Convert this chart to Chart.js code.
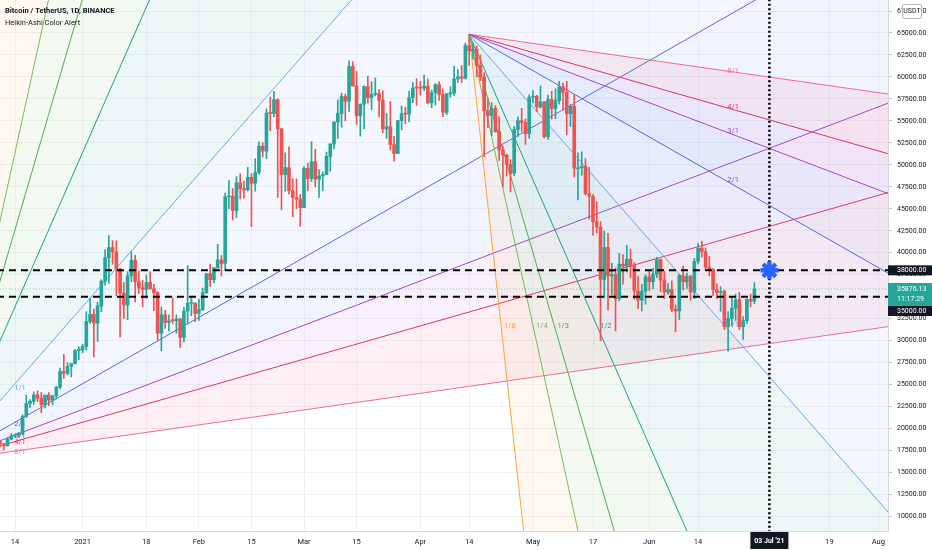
<!DOCTYPE html>
<html>
<head>
<meta charset="utf-8">
<title>BTCUSDT 1D</title>
<script src="https://cdn.jsdelivr.net/npm/chart.js@4.4.1/dist/chart.umd.min.js"></script>
<style>
  html, body { margin: 0; padding: 0; background: #ffffff; }
  #wrap { width: 932px; height: 550px; }
</style>
</head>
<body>
<div id="wrap"><canvas id="btcChart"></canvas></div>
<script>
// daily candles, Binance BTCUSDT, first candle on firstDay
var firstDay = '2020-12-10';

var opens = [
    // Dec 10 - 31
    18541, 18254, 18036, 18808, 19175, 19273, 19427, 21380, 22843, 23107, 23822, 23455, 22720, 23810, 23232, 23729, 24712, 26493, 26281, 27079, 27385, 28875,
    // Jan
    28923, 29332, 32176, 33000, 31989, 33949, 36769, 39432, 40586, 40088, 38150, 35410, 34049, 37371, 39145, 36737, 35994, 35824, 36622, 35901, 35468, 30851, 32950, 32078, 32259, 32251, 32464, 30363, 33368, 34246, 34262,
    // Feb
    33092, 33518, 35466, 37619, 36936, 38289, 39181, 38795, 46374, 46420, 44807, 47968, 47298, 47156, 48580, 47911, 49133, 52117, 51550, 55906, 55841, 57412, 54088, 48891, 49677, 47063, 46278, 46103,
    // Mar
    45134, 49596, 48436, 50349, 48374, 48746, 48882, 50959, 52376, 54875, 55851, 57774, 57222, 61188, 58976, 55605, 56901, 58912, 57641, 58031, 58100, 57352, 54083, 54342, 52304, 51293, 55026, 55818, 55782, 57636, 58746,
    // Apr
    58740, 58720, 58950, 57051, 58202, 59129, 57990, 55953, 58077, 58142, 59778, 60007, 59860, 63575, 62959, 63158, 61334, 60006, 56150, 55634, 56425, 53788, 51696, 51125, 50047, 49066, 54021, 55033, 54825, 53555,
    // May
    57697, 57797, 56578, 57169, 53205, 57436, 56393, 57315, 58866, 58240, 55816, 56670, 49538, 49671, 49845, 46716, 46415, 43538, 42910, 36964, 40596, 37371, 37531, 34771, 38706, 38491, 39273, 38530, 35658, 34606, 35641,
    // Jun 1 - 29
    37253, 36694, 37569, 39208, 36894, 35520, 35797, 33556, 33380, 37389, 36697, 37340, 35555, 39020, 40516, 40143, 38349, 38099, 35820, 35483, 35600, 31614, 32509, 33675, 34663, 31576, 32283, 34702, 34494
];
var highs = [
    18557, 18292, 18948, 19411, 19349, 19570, 21560, 23800, 23285, 24171, 24295, 24102, 23789, 24100, 23794, 24789, 26867, 28422, 27500, 27410, 28996, 29300,
    29600, 33300, 34778, 33600, 34360, 36939, 40365, 41950, 41380, 41350, 38264, 36628, 37850, 40100, 39747, 37950, 36852, 37469, 37850, 36415, 35600, 33826, 33456, 32944, 34875, 32921, 32557, 33783, 38531, 34933, 34342,
    34717, 35984, 37662, 38708, 38310, 40955, 39700, 46794, 48200, 47310, 48678, 48985, 48150, 49707, 49010, 50689, 52618, 52530, 56368, 57700, 58352, 57508, 54183, 51374, 52041, 48424, 48395, 46638,
    49790, 50200, 52640, 51773, 49448, 49200, 51450, 52402, 54895, 57387, 58150, 58058, 61844, 61724, 60633, 56938, 58981, 60100, 59468, 59880, 58589, 58430, 55830, 57200, 53238, 55073, 56700, 56559, 58400, 59368, 59800,
    59490, 60200, 59791, 58500, 59251, 59474, 58650, 58153, 58894, 61216, 60800, 61300, 63861, 64854, 63800, 63520, 62506, 60499, 57526, 57076, 56757, 55479, 52131, 51200, 50595, 54356, 55460, 56428, 55200, 57963,
    58458, 57911, 58973, 57200, 57939, 58360, 58650, 59500, 59300, 59500, 56862, 58000, 51367, 51483, 50700, 49720, 46623, 45800, 43546, 42451, 42200, 38800, 38270, 39920, 39791, 40841, 40411, 38877, 37338, 36400, 37499,
    37894, 38225, 39476, 39289, 37917, 36480, 36800, 34068, 37534, 38491, 37680, 37436, 39380, 41064, 41330, 40527, 39560, 38200, 36457, 36137, 35750, 33298, 34881, 35298, 35500, 32730, 34749, 35297, 36600
];
var lows = [
    17911, 17572, 18020, 18711, 19000, 19050, 19278, 21230, 22350, 22750, 23060, 21815, 22353, 22600, 22703, 23433, 24500, 25700, 26101, 25880, 27320, 27850,
    28624, 28946, 31962, 28130, 29900, 33288, 36300, 36500, 38720, 35111, 30420, 32531, 32380, 36701, 34408, 35357, 33850, 34800, 35844, 33400, 30071, 28850, 31390, 31106, 31900, 30837, 29241, 29842, 31915, 32825, 32171,
    32296, 33418, 35362, 36161, 36570, 38215, 37351, 37988, 45020, 43727, 43994, 46125, 46202, 47014, 42988, 47003, 48947, 50901, 50710, 53863, 55477, 46300, 44892, 47003, 46674, 44106, 45000, 43000,
    45115, 47047, 48100, 47500, 46300, 47070, 48882, 49274, 51845, 53005, 54270, 55013, 56078, 58966, 54600, 53271, 54123, 57023, 56270, 57820, 55450, 53650, 53000, 51700, 50427, 51283, 53962, 54691, 54900, 57072, 56769,
    57935, 58428, 56978, 56500, 56800, 57333, 55473, 55700, 57691, 57900, 59368, 59350, 59760, 61301, 62020, 60000, 59581, 50931, 54221, 53329, 53696, 50500, 47500, 48726, 46930, 48753, 53223, 53813, 52330, 53013,
    57037, 56035, 56478, 53057, 52900, 55200, 55241, 56900, 56235, 53400, 54370, 48600, 46000, 48799, 46555, 43825, 42001, 42250, 30000, 34850, 33488, 35200, 31111, 34537, 36419, 37800, 37134, 34684, 33632, 33379, 34153,
    35666, 35920, 37170, 35567, 34800, 35258, 33300, 31000, 32396, 35782, 35936, 34600, 34757, 38730, 39506, 38116, 37365, 35129, 34803, 33336, 31251, 28805, 31683, 32286, 31275, 30151, 31973, 33862, 34225
];
var closes = [
    18254, 18036, 18808, 19175, 19273, 19427, 21380, 22843, 23107, 23822, 23455, 22720, 23810, 23232, 23729, 24712, 26493, 26281, 27079, 27385, 28875, 28923,
    29332, 32178, 33000, 31988, 33949, 36769, 39432, 40582, 40088, 38150, 35404, 34051, 37371, 39144, 36742, 35994, 35828, 36631, 35891, 35468, 30850, 32945, 32078, 32259, 32254, 32467, 30366, 33364, 34252, 34262, 33092,
    33526, 35466, 37618, 36936, 38290, 39186, 38795, 46374, 46420, 44807, 47969, 47287, 47153, 48577, 47911, 49133, 52119, 51552, 55906, 55841, 57408, 54087, 48891, 49676, 47073, 46276, 46106, 45135,
    49587, 48440, 50349, 48374, 48751, 48882, 50971, 52376, 54884, 55851, 57773, 57221, 61188, 58968, 55605, 56900, 58912, 57648, 58030, 58102, 57351, 54083, 54340, 52303, 51293, 55025, 55817, 55777, 57635, 58746, 58740,
    58720, 58950, 57051, 58202, 59129, 57992, 56000, 58077, 58142, 59770, 60007, 59860, 63575, 62959, 63159, 61334, 60006, 56150, 55633, 56425, 53787, 51690, 51125, 50047, 49004, 54021, 55033, 54824, 53555, 57694,
    57800, 56578, 57169, 53200, 57436, 56393, 57314, 58862, 58240, 55816, 56670, 49631, 49671, 49841, 46708, 46426, 43537, 42910, 36964, 40596, 37371, 37536, 34770, 38706, 38491, 39271, 38529, 35663, 34605, 35641, 37253,
    36693, 37569, 39208, 36894, 35520, 35797, 33552, 33380, 37389, 36693, 37313, 35551, 39021, 40516, 40144, 38349, 38092, 35820, 35484, 35600, 31608, 32510, 33679, 34663, 31584, 32283, 34700, 34494, 35876
];

var tickDates = ['2020-12-14', '2021-01-01', '2021-01-18', '2021-02-01', '2021-02-15', '2021-03-01', '2021-03-15',
    '2021-04-01', '2021-04-14', '2021-05-01', '2021-05-17', '2021-06-01', '2021-06-14', '2021-07-19', '2021-08-01'];
var tickLabels = ['14', '2021', '18', 'Feb', '15', 'Mar', '15', 'Apr', '14', 'May', '17', 'Jun', '14', '19', 'Aug'];
var priceTicks = [10000, 12500, 15000, 17500, 20000, 22500, 25000, 27500, 30000, 32500, 35000, 37500, 40000,
    42500, 45000, 47500, 50000, 52500, 55000, 57500, 60000, 62500, 65000, 67500];

var levelPrices = [38000, 35000];
var lastPrice = 35876.13;
var countdown = '11:17:29';
var markerDate = '2021-07-03';
var markerLabel = "03 Jul '21";
var markerPrice = 38000;

// gann fans: 1/1 line moves fanRate USDT per day
var fanLevels = ['8/1', '4/1', '3/1', '2/1', '1/1', '1/2', '1/3', '1/4', '1/8'];
var fanRatios = [1 / 8, 1 / 4, 1 / 3, 1 / 2, 1, 2, 3, 4, 8];
var fanColors = ['#ee6f92', '#e3306b', '#a847c8', '#5068e0', '#6ea6ef', '#1f9e8a', '#4cae50', '#72bd5a', '#ffa23a'];
var fanRate = 487;
var fanOrigins = [
    { date: '2020-11-26', price: 16334, dir: 1, labelDate: '2020-12-13', labelPrice: 24955 },
    { date: '2021-04-14', price: 64854, dir: -1, labelDate: '2021-06-21', labelPrice: 31667 }
];

var upColor = '#26a69a';
var downColor = '#ef5350';
var textColor = '#131722';
var gridColor = 'rgba(200,205,220,0.25)';

function dayIndex(s) {
    var p = s.split('-');
    var q = firstDay.split('-');
    return (Date.UTC(+p[0], p[1] - 1, +p[2]) - Date.UTC(+q[0], q[1] - 1, +q[2])) / 86400000;
}

function hexAlpha(hex, a) {
    var n = parseInt(hex.slice(1), 16);
    return 'rgba(' + (n >> 16) + ',' + ((n >> 8) & 255) + ',' + (n & 255) + ',' + a + ')';
}

function fanPrice(fan, j, day) {
    return fan.price + fan.dir * fanRate * fanRatios[j] * (day - dayIndex(fan.date));
}

Chart.defaults.font.family = 'Roboto, "Liberation Sans", sans-serif';
Chart.defaults.font.size = 7;
Chart.defaults.color = textColor;

var farDay = 300;
var datasets = [];
var fanCount = 0;

fanOrigins.forEach(function (fan) {
    var od = dayIndex(fan.date);
    for (var j = 0; j < fanLevels.length; ++j) {
        datasets.push({
            type: 'line',
            data: [{ x: od, y: fan.price }, { x: farDay, y: fanPrice(fan, j, farDay) }],
            borderColor: fanColors[j],
            borderWidth: 1,
            pointRadius: 0,
            tension: 0,
            fill: j === 0 ? false : '-1',
            backgroundColor: hexAlpha(fanColors[j], 0.08),
            order: 100 - fanCount
        });
        fanCount++;
    }
});

var wickData = [], bodyData = [], candleColors = [];
for (var i = 0; i < closes.length; ++i) {
    wickData.push({ x: i, y: [lows[i], highs[i]] });
    bodyData.push({ x: i, y: [opens[i], closes[i]] });
    candleColors.push(closes[i] >= opens[i] ? upColor : downColor);
}

datasets.push({
    type: 'line',
    data: [{ x: -20, y: lastPrice }, { x: farDay, y: lastPrice }],
    borderColor: 'rgba(38,166,154,0.55)',
    borderWidth: 1,
    borderDash: [1, 2],
    pointRadius: 0,
    fill: false,
    order: 5
});
datasets.push({
    type: 'bar',
    data: wickData,
    backgroundColor: candleColors,
    barThickness: 1,
    grouped: false,
    borderWidth: 0,
    order: 3
});
datasets.push({
    type: 'bar',
    data: bodyData,
    backgroundColor: candleColors,
    barThickness: 3,
    grouped: false,
    borderWidth: 0,
    minBarLength: 1,
    order: 2
});
levelPrices.forEach(function (p) {
    datasets.push({
        type: 'line',
        data: [{ x: -20, y: p }, { x: farDay, y: p }],
        borderColor: '#000000',
        borderWidth: 2,
        borderDash: [7, 5],
        pointRadius: 0,
        fill: false,
        order: 1
    });
});
datasets.push({
    type: 'line',
    data: [{ x: dayIndex(markerDate), y: 0 }, { x: dayIndex(markerDate), y: 90000 }],
    borderColor: '#000000',
    borderWidth: 2.5,
    borderDash: [2, 2.5],
    pointRadius: 0,
    fill: false,
    order: 1
});
datasets.push({
    type: 'line',
    data: [{ x: dayIndex(markerDate), y: markerPrice }],
    showLine: false,
    pointStyle: 'star',
    pointRadius: 9,
    pointBorderWidth: 4.5,
    pointBorderColor: '#2962ff',
    pointBackgroundColor: '#2962ff',
    order: 0
});

function drawFanLabels(chart) {
    var ctx = chart.ctx, xs = chart.scales.x, ys = chart.scales.y, area = chart.chartArea;
    ctx.save();
    ctx.beginPath();
    ctx.rect(area.left, area.top, area.right - area.left, area.bottom - area.top);
    ctx.clip();
    ctx.font = '7.5px Roboto, sans-serif';
    ctx.textAlign = 'left';
    ctx.textBaseline = 'middle';
    fanOrigins.forEach(function (fan) {
        var od = dayIndex(fan.date);
        for (var j = 0; j < fanLevels.length; ++j) {
            var day, price;
            if (fanRatios[j] <= 1) {
                day = dayIndex(fan.labelDate);
                price = fanPrice(fan, j, day);
            } else {
                price = fan.labelPrice;
                day = od + (price - fan.price) / (fan.dir * fanRate * fanRatios[j]);
            }
            ctx.fillStyle = fanColors[j];
            ctx.fillText(fanLevels[j], xs.getPixelForValue(day) + 3, ys.getPixelForValue(price));
        }
    });
    ctx.restore();
}

function axisBox(ctx, left, top, w, h, bg) {
    ctx.fillStyle = bg;
    ctx.fillRect(left, top, w, h);
}

var decorPlugin = {
    id: 'decor',
    afterDatasetDraw: function (chart, args) {
        if (args.index === fanCount - 1) {
            drawFanLabels(chart);
        }
    },
    afterDraw: function (chart) {
        var ctx = chart.ctx, xs = chart.scales.x, ys = chart.scales.y, area = chart.chartArea;
        var axisLeft = area.right;
        ctx.save();

        // symbol header
        ctx.textAlign = 'left';
        ctx.textBaseline = 'middle';
        ctx.fillStyle = textColor;
        ctx.font = 'bold 7.5px Roboto, sans-serif';
        ctx.fillText('Bitcoin / TetherUS, 1D, BINANCE', 5, 11);
        ctx.font = '7.5px Roboto, sans-serif';
        ctx.fillText('Heikin-Ashi Color Alert', 5, 23);

        // currency badge over the top price label
        ctx.fillStyle = '#ffffff';
        ctx.strokeStyle = '#b2b5be';
        ctx.lineWidth = 1;
        ctx.beginPath();
        ctx.roundRect(axisLeft + 14.5, 4.5, 19, 14, 2);
        ctx.fill();
        ctx.stroke();
        ctx.fillStyle = textColor;
        ctx.font = '7px Roboto, sans-serif';
        ctx.textAlign = 'center';
        ctx.fillText('USDT', axisLeft + 24, 11.5);

        // price axis badges
        ctx.textAlign = 'left';
        ctx.font = '7px Roboto, sans-serif';
        var y38 = ys.getPixelForValue(levelPrices[0]);
        axisBox(ctx, axisLeft, y38 - 5, 44, 10, '#131722');
        ctx.fillStyle = '#ffffff';
        ctx.fillText(levelPrices[0].toFixed(2), axisLeft + 9, y38);

        var yLast = ys.getPixelForValue(lastPrice);
        axisBox(ctx, axisLeft, yLast - 6, 44, 23, upColor);
        ctx.fillStyle = '#ffffff';
        ctx.fillText(lastPrice.toFixed(2), axisLeft + 9, yLast);
        ctx.fillText(countdown, axisLeft + 9, yLast + 10.5);

        var y35 = yLast + 17;
        axisBox(ctx, axisLeft, y35, 44, 10, '#131722');
        ctx.fillStyle = '#ffffff';
        ctx.fillText(levelPrices[1].toFixed(2), axisLeft + 9, y35 + 5);

        // time axis badge
        var xm = xs.getPixelForValue(dayIndex(markerDate));
        axisBox(ctx, xm - 19, area.bottom + 1, 38, 17, '#131722');
        ctx.fillStyle = '#ffffff';
        ctx.textAlign = 'center';
        ctx.font = 'bold 7px Roboto, sans-serif';
        ctx.fillText(markerLabel, xm, area.bottom + 10);

        ctx.restore();
    }
};

new Chart(document.getElementById('btcChart'), {
    type: 'bar',
    data: { datasets: datasets },
    plugins: [decorPlugin],
    options: {
        responsive: true,
        maintainAspectRatio: false,
        animation: false,
        events: [],
        layout: { padding: 0, autoPadding: false },
        plugins: {
            legend: { display: false },
            title: { display: false },
            tooltip: { enabled: false }
        },
        scales: {
            x: {
                type: 'linear',
                offset: false,
                min: 0,
                max: 236.6,
                afterBuildTicks: function (scale) {
                    scale.ticks = tickDates.map(function (d) { return { value: dayIndex(d) }; });
                },
                afterFit: function (scale) {
                    scale.height = 19;
                    scale.paddingLeft = 0;
                    scale.paddingRight = 0;
                },
                grid: { color: gridColor, drawTicks: false, offset: false },
                border: { color: '#d6d9e0' },
                ticks: {
                    autoSkip: false,
                    maxRotation: 0,
                    padding: 7,
                    color: textColor,
                    font: { size: 7.5 },
                    callback: function (value, index) { return tickLabels[index]; }
                }
            },
            y: {
                type: 'linear',
                position: 'right',
                min: 8345,
                max: 68754,
                afterBuildTicks: function (scale) {
                    scale.ticks = priceTicks.map(function (v) { return { value: v }; });
                },
                afterFit: function (scale) {
                    scale.width = 44;
                    scale.paddingTop = 0;
                    scale.paddingBottom = 0;
                },
                grid: { color: gridColor, tickLength: 4, tickColor: '#c3c6ce' },
                border: { color: '#d6d9e0' },
                ticks: {
                    autoSkip: false,
                    padding: 5,
                    color: textColor,
                    font: { size: 7 },
                    callback: function (value) { return value.toFixed(2); }
                }
            }
        }
    }
});
</script>
</body>
</html>
